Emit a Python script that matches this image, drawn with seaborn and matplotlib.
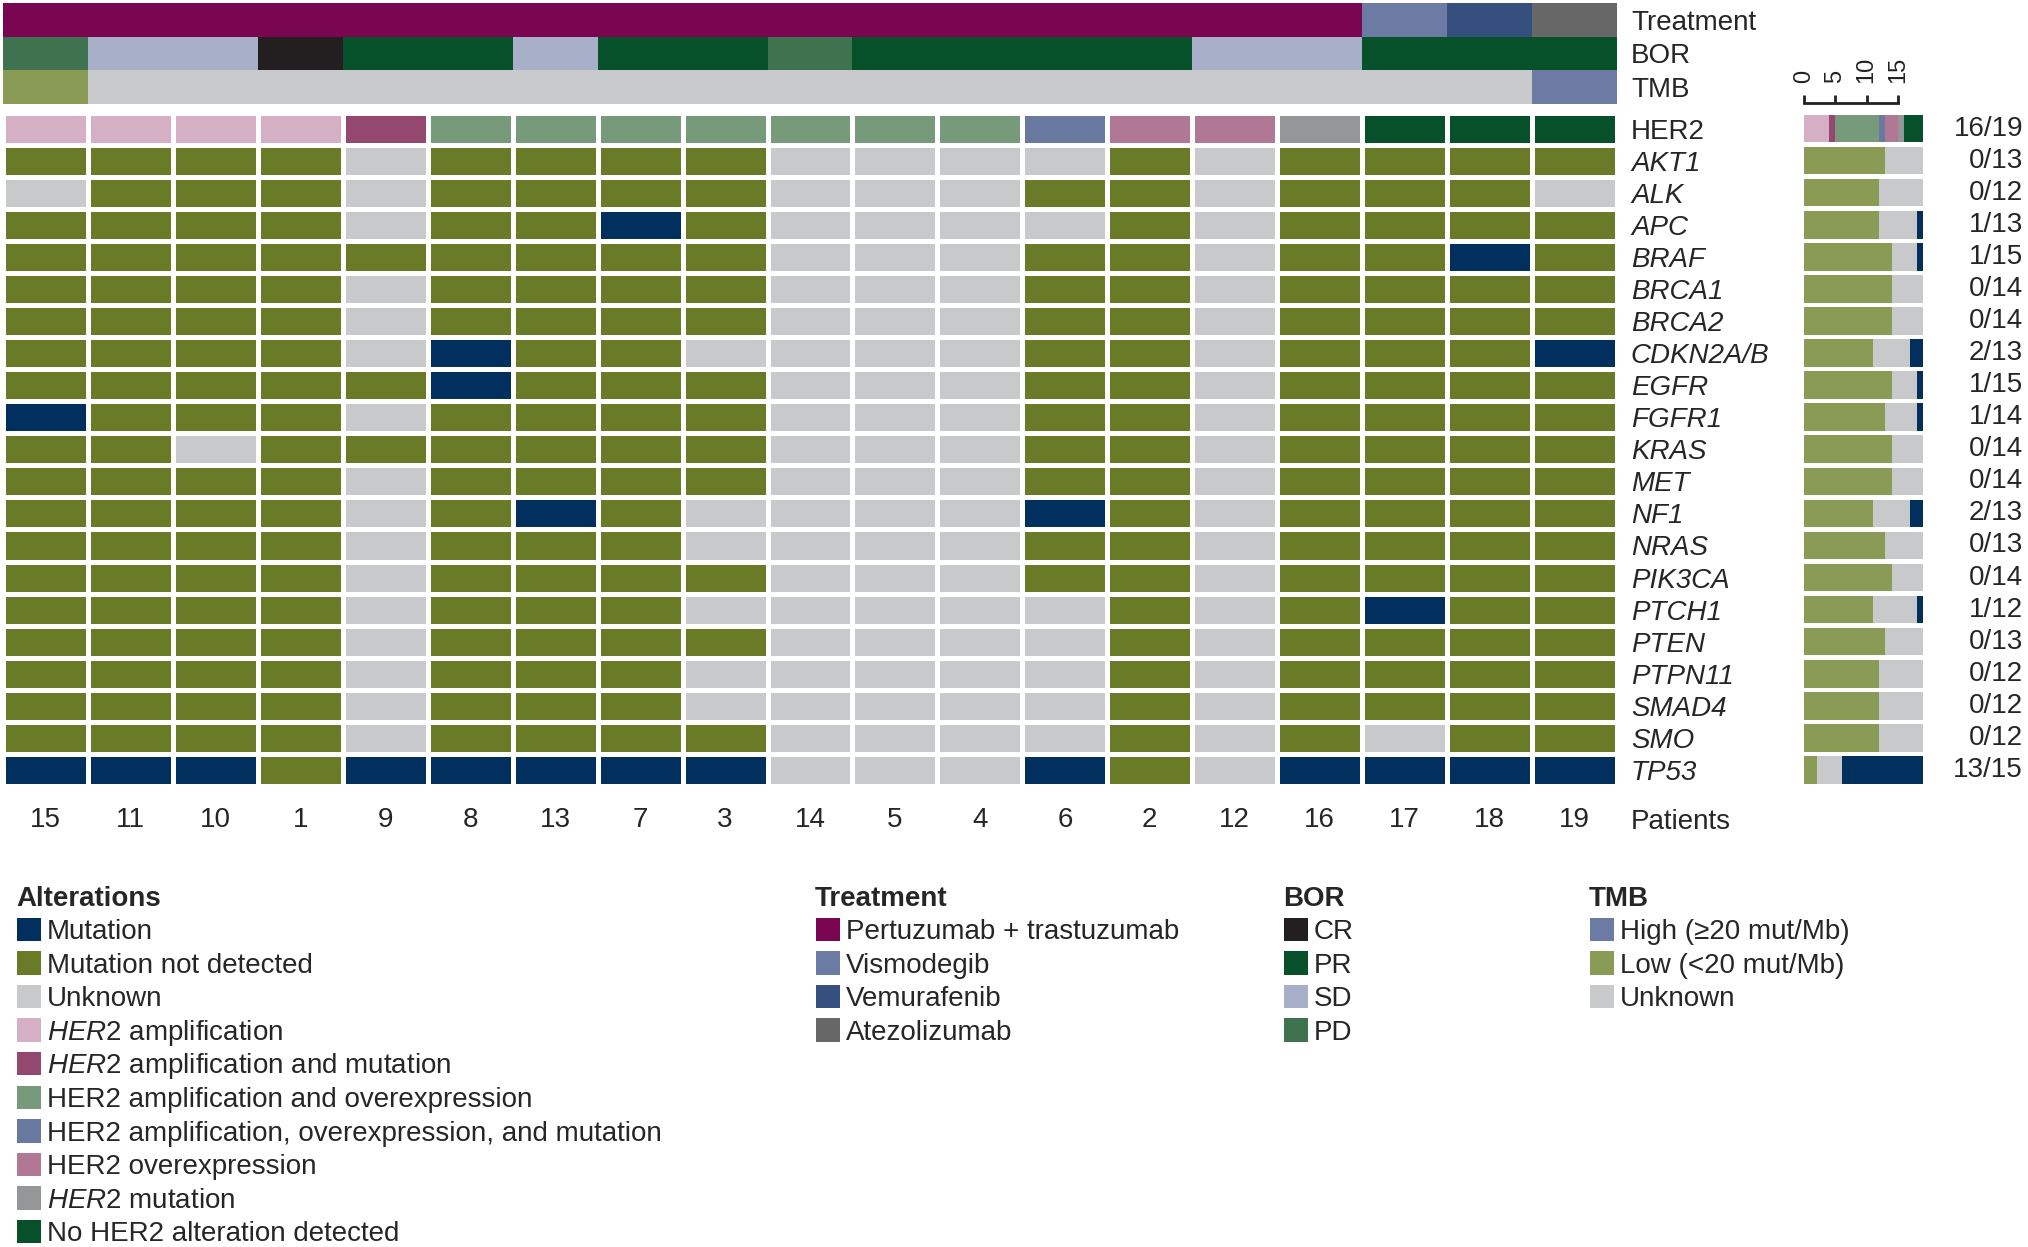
import numpy as np
import pandas as pd
import seaborn as sns
import matplotlib.pyplot as plt
from matplotlib.colors import ListedColormap
from matplotlib.patches import Rectangle
import matplotlib.transforms as mtransforms

sns.set_style("white")
plt.rcParams['font.family'] = ['Liberation Sans', 'DejaVu Sans']
plt.rcParams['mathtext.fontset'] = 'custom'
plt.rcParams['mathtext.rm'] = 'Liberation Sans'
plt.rcParams['mathtext.it'] = 'Liberation Sans:italic'

# Patients in plotted order
patients = [15, 11, 10, 1, 9, 8, 13, 7, 3, 14, 5, 4, 6, 2, 12, 16, 17, 18, 19]

# Annotation tracks
treatment = ["PT", "PT", "PT", "PT", "PT", "PT", "PT", "PT", "PT", "PT",
             "PT", "PT", "PT", "PT", "PT", "PT", "VIS", "VEM", "ATE"]
bor = ["PD", "SD", "SD", "CR", "PR", "PR", "SD", "PR", "PR", "PD",
       "PR", "PR", "PR", "PR", "SD", "SD", "PR", "PR", "PR"]
tmb = ["LOW", "UNK", "UNK", "UNK", "UNK", "UNK", "UNK", "UNK", "UNK", "UNK",
       "UNK", "UNK", "UNK", "UNK", "UNK", "UNK", "UNK", "UNK", "HIGH"]

# HER2 status
her2 = ["amp", "amp", "amp", "amp", "amp_mut", "amp_ovx", "amp_ovx", "amp_ovx",
        "amp_ovx", "amp_ovx", "amp_ovx", "amp_ovx", "amp_ovx_mut", "ovx", "ovx",
        "her2_mut", "none", "none", "none"]

# Gene calls: M = mutation, N = not detected, U = unknown
genes = ["AKT1", "ALK", "APC", "BRAF", "BRCA1", "BRCA2", "CDKN2A/B", "EGFR",
         "FGFR1", "KRAS", "MET", "NF1", "NRAS", "PIK3CA", "PTCH1", "PTEN",
         "PTPN11", "SMAD4", "SMO", "TP53"]
gene_calls = [
    "NNNNUNNNNUUUUNUNNNN",  # AKT1
    "UNNNUNNNNUUUNNUNNNU",  # ALK
    "NNNNUNNMNUUUUNUNNNN",  # APC
    "NNNNNNNNNUUUNNUNNMN",  # BRAF
    "NNNNUNNNNUUUNNUNNNN",  # BRCA1
    "NNNNUNNNNUUUNNUNNNN",  # BRCA2
    "NNNNUMNNUUUUNNUNNNM",  # CDKN2A/B
    "NNNNNMNNNUUUNNUNNNN",  # EGFR
    "MNNNUNNNNUUUNNUNNNN",  # FGFR1
    "NNUNNNNNNUUUNNUNNNN",  # KRAS
    "NNNNUNNNNUUUNNUNNNN",  # MET
    "NNNNUNMNUUUUMNUNNNN",  # NF1
    "NNNNUNNNUUUUNNUNNNN",  # NRAS
    "NNNNUNNNNUUUNNUNNNN",  # PIK3CA
    "NNNNUNNNUUUUUNUNMNN",  # PTCH1
    "NNNNUNNNNUUUUNUNNNN",  # PTEN
    "NNNNUNNNUUUUUNUNNNN",  # PTPN11
    "NNNNUNNNUUUUUNUNNNN",  # SMAD4
    "NNNNUNNNNUUUUNUNUNN",  # SMO
    "MMMNMMMMMUUUMNUMMMM",  # TP53
]

# Colours
alt_colors = {
    "M": "#01305f", "N": "#6a7b28", "U": "#c8c9cb",
    "amp": "#d5b0c5", "amp_mut": "#944870", "amp_ovx": "#779a7b",
    "amp_ovx_mut": "#6a79a0", "ovx": "#b07895", "her2_mut": "#959698",
    "none": "#06512a",
}
ann_colors = {
    "PT": "#7a0651", "VIS": "#6b7ba3", "VEM": "#354f7e", "ATE": "#676767",
    "CR": "#231f20", "PR": "#06512a", "SD": "#a7afc9", "PD": "#3f7350",
    "HIGH": "#6b7ba3", "LOW": "#8a9b55", "UNK": "#c8c9cb",
}
bar_colors = dict(alt_colors, N="#8a9b55")

FS = 20
W, H = 2028, 1247
fig = plt.figure(figsize=(W / 100, H / 100), dpi=100)

def fx(px):
    return px / W

def fy(px):
    return 1 - px / H

ax_ann = fig.add_axes([fx(3), fy(103.5), fx(1614), 100.5 / H])
ax_main = fig.add_axes([fx(3), fy(786), fx(1614), (786 - 112.5) / H])
ax_bar = fig.add_axes([fx(1804), fy(786), fx(119), (786 - 112.5) / H])

# ---- annotation tracks
ann_keys = list(ann_colors.keys())
ann_df = pd.DataFrame([treatment, bor, tmb], index=["Treatment", "BOR", "TMB"],
                      columns=patients)
ann_codes = ann_df.apply(lambda col: col.map(ann_keys.index))
sns.heatmap(ann_codes, cmap=ListedColormap(list(ann_colors.values())),
            vmin=-0.5, vmax=len(ann_keys) - 0.5, cbar=False, ax=ax_ann,
            linewidths=0, xticklabels=False, yticklabels=True)
ax_ann.yaxis.tick_right()
ax_ann.set_yticklabels(ann_df.index, rotation=0, fontsize=FS)
ax_ann.tick_params(axis='y', length=0, pad=10)
ax_ann.set_xlabel("")

# ---- main grid
alt_keys = list(alt_colors.keys())
rows = ["HER2"] + genes
grid = pd.DataFrame([her2] + [list(s) for s in gene_calls], index=rows,
                    columns=patients)
codes = grid.apply(lambda col: col.map(alt_keys.index))
sns.heatmap(codes, cmap=ListedColormap(list(alt_colors.values())),
            vmin=-0.5, vmax=len(alt_keys) - 0.5, cbar=False, ax=ax_main,
            linewidths=2.4, linecolor="white",
            xticklabels=patients, yticklabels=rows)
ax_main.yaxis.tick_right()
ax_main.set_yticklabels(rows, rotation=0, fontsize=FS)
for lbl in ax_main.get_yticklabels():
    if lbl.get_text() != "HER2":
        lbl.set_fontstyle("italic")
ax_main.set_xticklabels(patients, rotation=0, fontsize=FS)
ax_main.tick_params(axis='y', length=0, pad=10)
ax_main.tick_params(axis='x', length=0, pad=15)
ax_main.set_xlabel("")
ax_main.set_ylabel("")
fig.text(fx(1631), fy(822), "Patients", fontsize=FS, ha="left", va="center")

# ---- stacked bar summary
stack_order = ["amp", "amp_mut", "amp_ovx", "amp_ovx_mut", "ovx", "her2_mut",
               "none", "N", "U", "M"]
counts = grid.apply(lambda r: r.value_counts(), axis=1).reindex(
    columns=stack_order).fillna(0)
ypos = np.arange(len(rows))
left = np.zeros(len(rows))
for cat in stack_order:
    vals = counts[cat].values
    ax_bar.barh(ypos, vals, left=left, height=0.86, color=bar_colors[cat],
                linewidth=0)
    left += vals
ax_bar.set_ylim(len(rows) - 0.5, -0.5)
ax_bar.set_xlim(0, len(patients))
ax_bar.set_yticks([])
ax_bar.xaxis.set_ticks_position("top")
ax_bar.set_xticks([0, 5, 10, 15])
ax_bar.set_xticklabels(["0", "5", "10", "15"])
ax_bar.tick_params(axis='x', direction="out", length=6, width=2, pad=8,
                   colors="#222222", labelsize=17, labelrotation=90)
for s in ["left", "right", "bottom"]:
    ax_bar.spines[s].set_visible(False)
ax_bar.spines["top"].set_position(("outward", 7))
ax_bar.spines["top"].set_bounds(0, 15)
ax_bar.spines["top"].set_linewidth(2)
ax_bar.spines["top"].set_color("#222222")

# ratio labels
trans = mtransforms.blended_transform_factory(ax_bar.transAxes, ax_bar.transData)
xr = (2023 - 1804) / 119
for i, r in enumerate(rows):
    c = counts.loc[r]
    if r == "HER2":
        known = c[stack_order[:7]].sum()
        label = f"{int(known - c['none'])}/{int(known)}"
    else:
        label = f"{int(c['M'])}/{int(c['M'] + c['N'])}"
    ax_bar.text(xr, i, label, transform=trans, ha="right", va="center",
                fontsize=FS, clip_on=False)

# ---- legends (drawn as patches + text so rows keep an even pitch)
def draw_legend(x, title, keys, labels, cmap):
    fig.text(fx(x), fy(906), title, fontsize=FS, fontweight="bold",
             ha="left", va="baseline")
    for k, (key, lab) in enumerate(zip(keys, labels)):
        top = 917.5 + 33.6 * k
        fig.add_artist(Rectangle((fx(x + 1), fy(top + 23.5)), fx(23.5), 23.5 / H,
                                 facecolor=cmap[key], edgecolor="none",
                                 transform=fig.transFigure))
        fig.text(fx(x + 31), fy(top + 21.5), lab, fontsize=FS,
                 ha="left", va="baseline")

alt_labels = ["Mutation", "Mutation not detected", "Unknown",
              r"$\mathit{HER2}$ amplification",
              r"$\mathit{HER2}$ amplification and mutation",
              "HER2 amplification and overexpression",
              "HER2 amplification, overexpression, and mutation",
              "HER2 overexpression", r"$\mathit{HER2}$ mutation",
              "No HER2 alteration detected"]
draw_legend(16, "Alterations", alt_keys, alt_labels, alt_colors)
draw_legend(815, "Treatment", ["PT", "VIS", "VEM", "ATE"],
            ["Pertuzumab + trastuzumab", "Vismodegib", "Vemurafenib",
             "Atezolizumab"], ann_colors)
draw_legend(1283, "BOR", ["CR", "PR", "SD", "PD"],
            ["CR", "PR", "SD", "PD"], ann_colors)
draw_legend(1589, "TMB", ["HIGH", "LOW", "UNK"],
            ["High (≥20 mut/Mb)", "Low (<20 mut/Mb)", "Unknown"], ann_colors)

fig.savefig("out.png", dpi=100)
